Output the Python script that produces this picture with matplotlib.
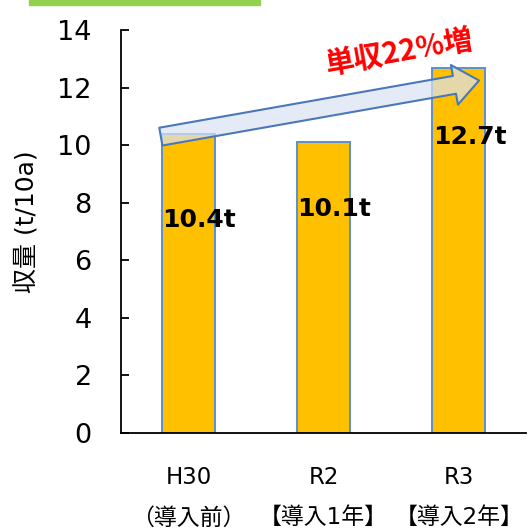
import matplotlib
matplotlib.use("Agg")
import matplotlib.pyplot as plt
import matplotlib.patches as mpatches

plt.rcParams['font.family'] = ['DejaVu Sans', 'Noto Sans CJK JP']

# データ
years = ["H30", "R2", "R3"]
notes = ["（導入前）", "【導入1年】", "【導入2年】"]
yields = [10.4, 10.1, 12.7]
value_labels = ["10.4t", "10.1t", "12.7t"]
yticks = [0, 2, 4, 6, 8, 10, 12, 14]

fig = plt.figure(figsize=(5.32, 5.29), dpi=100)
ax = fig.add_axes([0.2274, 0.1815, 0.762, 0.7615])

x = list(range(len(years)))
bw = 0.39
ax.bar(x, yields, width=bw, color="#FFC000", edgecolor="#5B8FD0", linewidth=1.4, zorder=2)

ax.set_xlim(-0.5, 2.5)
ax.set_ylim(0, 14)
ax.set_yticks(yticks)
ax.set_xticks(x)
ax.set_xticklabels([f"{a}\n{b}" for a, b in zip(years, notes)], linespacing=1.95)
ax.tick_params(axis="y", direction="in", length=6, width=1.3, labelsize=19.5, pad=21)
ax.tick_params(axis="x", direction="in", length=4, width=1.3, labelsize=16.5, pad=24)
for s in ["top", "right"]:
    ax.spines[s].set_visible(False)
for s in ["left", "bottom"]:
    ax.spines[s].set_linewidth(1.3)

ax.set_ylabel("収量 (t/10a)", fontsize=18, va="center")
ax.yaxis.set_label_coords(-0.232, 0.525)

# 値ラベル
offs = [-3.0, -2.3, -2.4]
for xi, v, lab, o in zip(x, yields, value_labels, offs):
    ax.text(xi + 0.08, v + o, lab, ha="center", va="center",
            fontsize=18, fontweight="bold", zorder=4)

# 矢印
ax.annotate("", xy=(x[2] + 0.15, yields[2] - 0.45), xytext=(x[0] - bw / 2 - 0.01, yields[0] - 0.1),
            arrowprops=dict(arrowstyle="simple,head_length=1.8,head_width=2.9,tail_width=1.3",
                            mutation_scale=10, shrinkA=0, shrinkB=0,
                            fc=(0.85, 0.89, 0.96, 0.7), ec="#4A78B8", lw=1.5),
            zorder=3)

ax.text(x[1] + 0.56, 13.25, "単収22%増", color="#FF0000", fontsize=21,
        fontweight="bold", rotation=10, ha="center", va="center",
        family=['Noto Sans CJK JP', 'DejaVu Sans'])

# 上部の緑帯
fig.patches.append(mpatches.Rectangle((29 / 532, 1 - 5 / 529), 231 / 532, 5 / 529,
                                      transform=fig.transFigure, color="#92D050"))

fig.savefig("out.png", dpi=100)
